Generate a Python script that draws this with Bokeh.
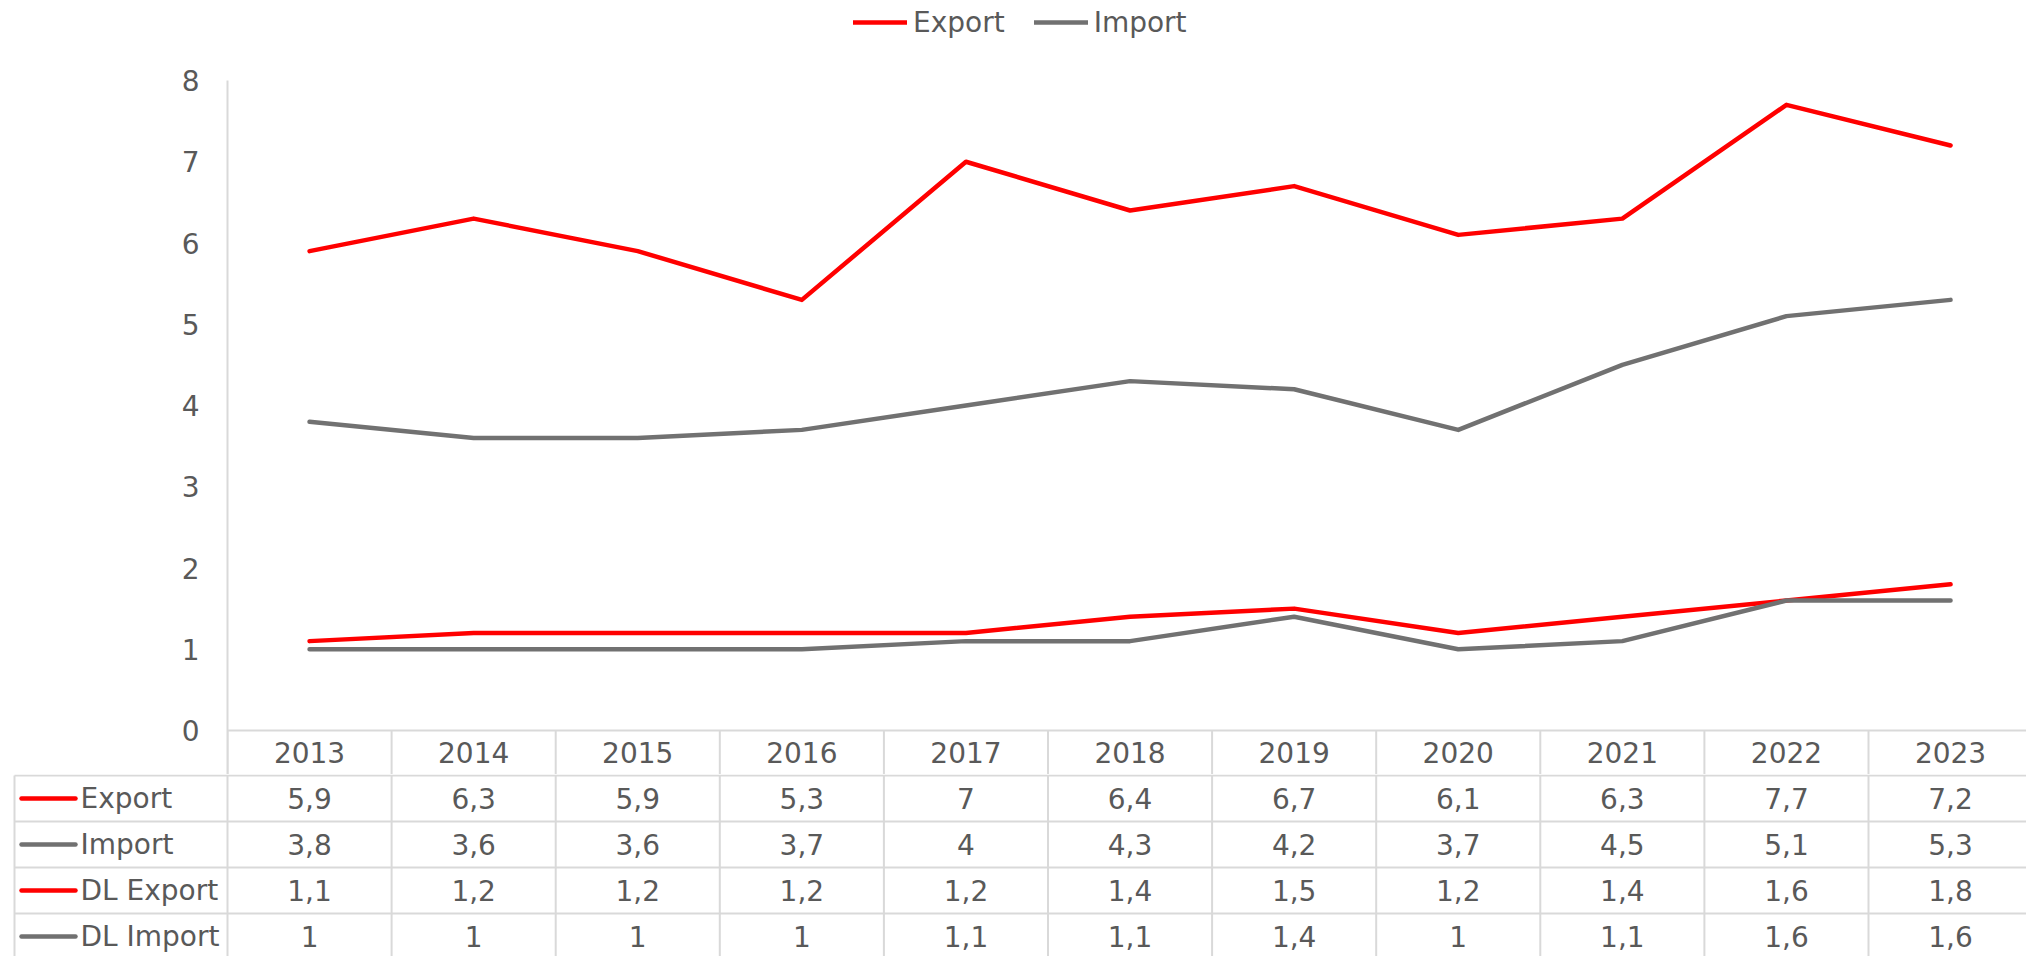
from bokeh.plotting import figure
from bokeh.models import Range1d, FixedTicker, Legend, LegendItem
from bokeh.layouts import column
from bokeh.embed import file_html
from bokeh.resources import INLINE
from bokeh.core.properties import value

# ---------------- data ----------------
years = ["2013", "2014", "2015", "2016", "2017", "2018", "2019", "2020", "2021", "2022", "2023"]
export_vals = [5.9, 6.3, 5.9, 5.3, 7, 6.4, 6.7, 6.1, 6.3, 7.7, 7.2]
import_vals = [3.8, 3.6, 3.6, 3.7, 4, 4.3, 4.2, 3.7, 4.5, 5.1, 5.3]
dl_export_vals = [1.1, 1.2, 1.2, 1.2, 1.2, 1.4, 1.5, 1.2, 1.4, 1.6, 1.8]
dl_import_vals = [1, 1, 1, 1, 1.1, 1.1, 1.4, 1, 1.1, 1.6, 1.6]
series_names = ["Export", "Import", "DL Export", "DL Import"]
y_ticks = [0, 1, 2, 3, 4, 5, 6, 7, 8]

# ---------------- style / layout ----------------
RED = "#FF0000"
GRAY = "#717171"
TXT = "#595959"
GRID = "#D9D9D9"
FONT = "DejaVu Sans"
FS = "28px"
LW = 4.5

W, H = 2026, 956
LEFT = 227          # left edge of category columns (px)
COLW = 164.1        # width of one category column (px)
Y0_PX = 730         # pixel row of value 0
UNIT = 81.25        # px per value unit
A_H = 774           # height of chart figure
HDR_C = 752         # header text centre (px)
ROW_H = 46
TABLE_LEFT = 14

n = len(years)
xs = [i + 0.5 for i in range(n)]
x_end = (W - LEFT) / COLW
yA_top = Y0_PX / UNIT
yA_bot = -(A_H - Y0_PX) / UNIT
y_hdr = -(HDR_C - Y0_PX) / UNIT


def fmt(v):
    return f"{v:g}".replace(".", ",")


def txt_kw(align="center"):
    return dict(text_font=value(FONT), text_font_size=value(FS), text_color=TXT,
                text_align=align, text_baseline="middle")


# ---------------- chart figure ----------------
pA = figure(width=W, height=A_H, x_range=Range1d(0, x_end), y_range=Range1d(yA_bot, yA_top),
            x_axis_location=None, y_axis_location="left", toolbar_location=None,
            output_backend="svg", min_border_left=LEFT, min_border_right=0,
            min_border_top=0, min_border_bottom=0, frame_align=False)
pA.outline_line_color = None
pA.xgrid.visible = False
pA.ygrid.visible = False
pA.background_fill_color = "white"
pA.border_fill_color = "white"

ya = pA.yaxis[0]
ya.ticker = FixedTicker(ticks=y_ticks)
ya.bounds = (yA_bot, max(y_ticks))
ya.axis_line_color = GRID
ya.axis_line_width = 2
ya.major_tick_line_color = None
ya.minor_tick_line_color = None
ya.major_tick_out = 0
ya.major_tick_in = 0
ya.major_label_standoff = 28
ya.major_label_text_font = FONT
ya.major_label_text_font_size = FS
ya.major_label_text_color = TXT

# header row grid (x-axis line + separators)
bounds = list(range(n + 1))
pA.segment(x0=bounds, y0=[0] * len(bounds), x1=bounds, y1=[yA_bot] * len(bounds),
           line_color=GRID, line_width=2)
pA.segment(x0=[0], y0=[0], x1=[x_end], y1=[0], line_color=GRID, line_width=2)
pA.text(x=xs, y=[y_hdr] * n, text=years, **txt_kw())

line_kw = dict(line_width=LW, line_join="round", line_cap="round")
r_exp = pA.line(xs, export_vals, line_color=RED, **line_kw)
r_imp = pA.line(xs, import_vals, line_color=GRAY, **line_kw)
r_dle = pA.line(xs, dl_export_vals, line_color=RED, **line_kw)
r_dli = pA.line(xs, dl_import_vals, line_color=GRAY, **line_kw)

legend = Legend(items=[LegendItem(label="Export", renderers=[r_exp]),
                       LegendItem(label="Import", renderers=[r_imp])],
                orientation="horizontal", location=(853 - LEFT, A_H - 39),
                glyph_width=54, glyph_height=34, label_height=34, label_standoff=6,
                spacing=29, padding=0, margin=0,
                border_line_color=None, background_fill_alpha=0,
                label_text_font=FONT, label_text_font_size=FS, label_text_color=TXT)
pA.add_layout(legend)

# ---------------- table figure ----------------
B_H = H - A_H
pB = figure(width=W, height=B_H, x_range=Range1d(-LEFT / COLW, x_end),
            y_range=Range1d((B_H - 1) / ROW_H, -1 / ROW_H),
            x_axis_location=None, y_axis_location=None, toolbar_location=None,
            output_backend="svg", min_border_left=0, min_border_right=0,
            min_border_top=0, min_border_bottom=0, frame_align=False)
pB.outline_line_color = None
pB.xgrid.visible = False
pB.ygrid.visible = False
pB.background_fill_color = "white"
pB.border_fill_color = "white"


def px2x(px):
    return (px - LEFT) / COLW


nrows = len(series_names)
x_left = px2x(TABLE_LEFT)
rows_b = list(range(nrows + 1))
pB.segment(x0=[x_left] * len(rows_b), y0=rows_b, x1=[x_end] * len(rows_b), y1=rows_b,
           line_color=GRID, line_width=2)
vb = [x_left] + bounds
pB.segment(x0=vb, y0=[0] * len(vb), x1=vb, y1=[nrows] * len(vb), line_color=GRID, line_width=2)

colors = [RED, GRAY, RED, GRAY]
yc = [r + 0.5 for r in range(nrows)]
pB.segment(x0=[px2x(21)] * nrows, y0=yc, x1=[px2x(75)] * nrows, y1=yc,
           line_color=colors, line_width=LW, line_cap="round")
pB.text(x=[px2x(80)] * nrows, y=yc, text=series_names, **txt_kw("left"))

for r, vals in enumerate([export_vals, import_vals, dl_export_vals, dl_import_vals]):
    pB.text(x=xs, y=[r + 0.5] * n, text=[fmt(v) for v in vals], **txt_kw())

layout = column(pA, pB, spacing=0)
open("out.html", "w").write(file_html(layout, INLINE))
